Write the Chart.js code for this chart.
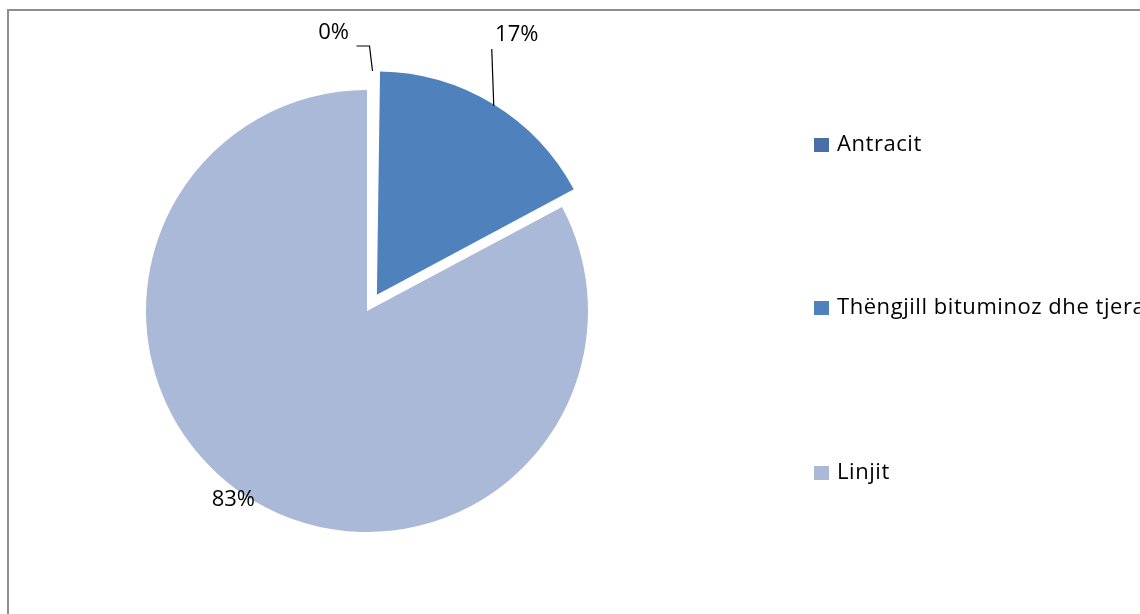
<!DOCTYPE html>
<html>
<head>
<meta charset="utf-8">
<script src="https://cdn.jsdelivr.net/npm/chart.js@4"></script>
<style>
  html, body { margin: 0; padding: 0; background: #fff; }
  body { width: 1140px; height: 614px; position: relative; overflow: hidden; font-family: "Open Sans", sans-serif; }
  #frame { position: absolute; left: 7px; top: 9px; width: 1200px; height: 700px; border-left: 2px solid #8f8f8f; border-top: 2px solid #8f8f8f; box-sizing: border-box; }
  canvas { position: absolute; left: 0; top: 0; }
  .leg { position: absolute; left: 814px; white-space: nowrap; font-size: 22px; letter-spacing: 0.55px; color: #000; line-height: 22px; }
  .leg .sw { display: inline-block; width: 15px; height: 14px; margin-right: 8px; vertical-align: -1px; }
</style>
</head>
<body>
<div id="frame"></div>
<canvas id="c" width="1140" height="614"></canvas>
<div id="legend"></div>
<script>
const categories = ["Antracit", "Thëngjill bituminoz dhe tjera", "Linjit"];
const values = [0.2, 17.0, 82.8];
const colors = ["#4A6FA8", "#4F81BD", "#AAB9D7"];
const explode = [76, 76, 0];

// legend (HTML text)
const legendTops = [131, 294, 459];
const legendEl = document.getElementById('legend');
categories.forEach((name, i) => {
  const d = document.createElement('div');
  d.className = 'leg';
  d.style.top = legendTops[i] + 'px';
  d.innerHTML = '<span class="sw" style="background:' + colors[i] + '"></span>' + name;
  legendEl.appendChild(d);
});

const labelPlugin = {
  id: 'pieLabels',
  afterDatasetsDraw(chart, args, opts) {
    const ctx = chart.ctx;
    const meta = chart.getDatasetMeta(0);
    const data = chart.data.datasets[0].data;
    const total = data.reduce((a, b) => a + b, 0);
    ctx.save();
    ctx.font = '22px "Open Sans", sans-serif';
    ctx.fillStyle = '#000';
    ctx.strokeStyle = '#000';
    ctx.lineWidth = 1.2;
    ctx.textBaseline = 'middle';
    meta.data.forEach((arc, i) => {
      const mid = (arc.startAngle + arc.endAngle) / 2;
      const off = (arc.options.offset || 0) / 4;
      const cx = arc.x + Math.cos(mid) * off;
      const cy = arc.y + Math.sin(mid) * off;
      const ex = cx + Math.cos(mid) * arc.outerRadius;
      const ey = cy + Math.sin(mid) * arc.outerRadius;
      const p = opts.place[i];
      const txt = Math.round(data[i] / total * 100) + '%';
      if (p.leader) {
        ctx.beginPath();
        ctx.moveTo(ex + p.leader[0][0], ey + p.leader[0][1]);
        for (let k = 1; k < p.leader.length; k++) ctx.lineTo(ex + p.leader[k][0], ey + p.leader[k][1]);
        ctx.stroke();
      }
      ctx.textAlign = 'center';
      ctx.fillText(txt, ex + p.dx, ey + p.dy);
    });
    ctx.restore();
  }
};

new Chart(document.getElementById('c'), {
  type: 'pie',
  data: {
    labels: categories,
    datasets: [{
      data: values,
      backgroundColor: colors,
      borderWidth: 0,
      offset: explode
    }]
  },
  options: {
    responsive: false,
    animation: false,
    radius: 221,
    layout: { padding: { left: 0, right: 406, top: 8, bottom: 0 } },
    plugins: {
      legend: { display: false },
      tooltip: { enabled: false },
      pieLabels: {
        place: [
          { dx: -35, dy: -38, leader: [[4, 0], [1, -25], [-12, -25]] },
          { dx: 25, dy: -71, leader: [[2, 0], [0, -57]] },
          { dx: -20, dy: -1 }
        ]
      }
    }
  },
  plugins: [labelPlugin]
});
</script>
</body>
</html>
